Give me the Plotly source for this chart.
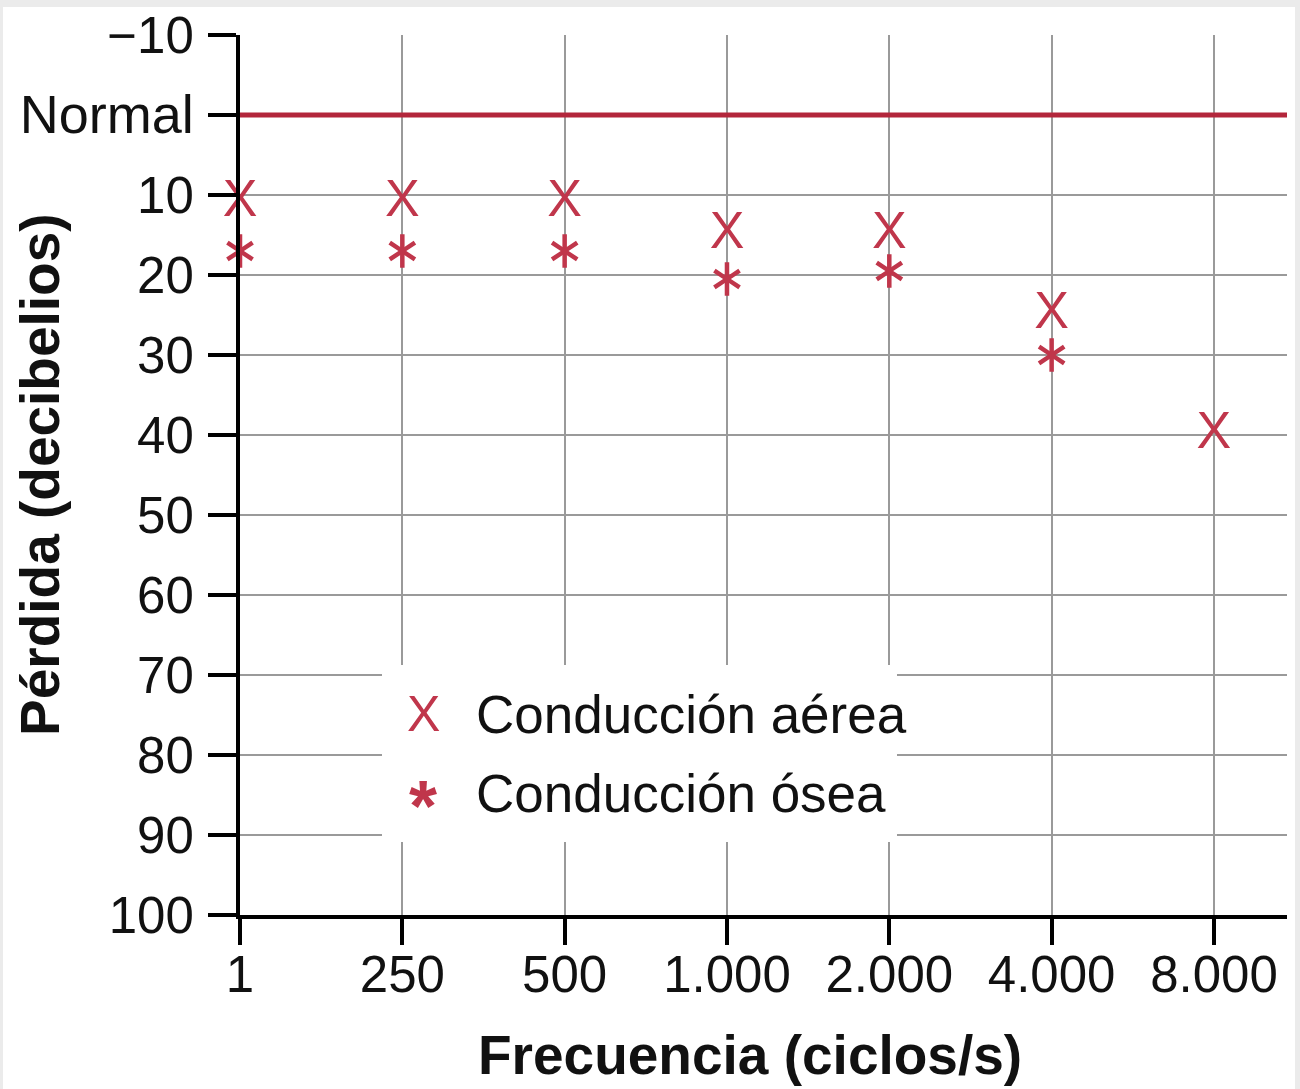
import plotly.graph_objects as go

# Audiogram data (hearing loss in dB)
frecuencias = ["1", "250", "500", "1.000", "2.000", "4.000", "8.000"]
cond_aerea = [11, 11, 11, 15, 15, 25, 40]
cond_osea = [17, 17, 17, 20.5, 19.5, 30, None]
nivel_normal = 0

y_ticks = [-10, 0, 10, 20, 30, 40, 50, 60, 70, 80, 90, 100]
y_labels = ["\u221210", "<span style='font-size:54px'>Normal</span>", "10", "20", "30",
            "40", "50", "60", "70", "80", "90", "100"]

leyenda = ["Conducción aérea", "Conducción ósea"]

RED = "#c0364b"
FONT = "Liberation Sans, Arial, sans-serif"

fig = go.Figure()
# air conduction drawn as a letter X, like the original
fig.add_trace(go.Scatter(
    x=frecuencias, y=cond_aerea, mode="text", text=["X"] * len(cond_aerea),
    name=leyenda[0], cliponaxis=False, showlegend=False,
    textfont=dict(family=FONT, size=52, color=RED),
))
# bone conduction: six-armed asterisk = y-up + y-down
for sym in ["y-up-open", "y-down-open"]:
    fig.add_trace(go.Scatter(
        x=frecuencias, y=cond_osea, mode="markers", name=leyenda[1],
        cliponaxis=False, showlegend=False,
        marker=dict(symbol=sym, size=21, color=RED, line=dict(color=RED, width=4.5)),
    ))

# normal hearing line
fig.add_hline(y=nivel_normal, line=dict(color="#b3263b", width=5), layer="above")

# grey frame (right edge of grid)
fig.add_shape(type="rect", xref="x domain", yref="y domain", x0=0, x1=1, y0=0, y1=1,
              line=dict(color="#9a9a9a", width=2), layer="below")
# white page inside the light grey border
fig.add_shape(type="rect", xref="paper", yref="paper", x0=-0.2264, x1=1.0076, y0=-0.2, y1=1.0318,
              fillcolor="white", line=dict(width=0), layer="below")
# legend box
fig.add_shape(type="rect", xref="paper", yref="paper", x0=0.1356, x1=0.6275, y0=0.083, y1=0.2841,
              fillcolor="white", line=dict(width=0), layer="above")

legend_ann = [
    dict(text="X", x=0.1757, y=0.2284, xanchor="center", font=dict(size=50, color=RED)),
    dict(text=leyenda[0], x=0.2235, y=0.2284, xanchor="left", font=dict(size=53, color="#111")),
    dict(text="<b>*</b>", x=0.1748, y=0.1398, xanchor="center", yshift=-14, font=dict(size=72, color=RED)),
    dict(text=leyenda[1], x=0.2235, y=0.1386, xanchor="left", font=dict(size=53, color="#111")),
]
for a in legend_ann:
    a.update(xref="paper", yref="paper", yanchor="middle", showarrow=False)

fig.update_layout(
    width=1300, height=1089,
    margin=dict(l=240, r=13, t=35, b=174),
    paper_bgcolor="#ebebeb", plot_bgcolor="white",
    font=dict(family=FONT, size=51, color="#111"),
    showlegend=False,
    xaxis=dict(
        type="category", range=[0, 6.45], automargin=False,
        showgrid=True, gridcolor="#9a9a9a", gridwidth=2,
        showline=True, linecolor="black", linewidth=4,
        ticks="outside", ticklen=26, tickwidth=4, tickcolor="black",
        ticklabelstandoff=-14,
        tickfont=dict(size=51),
        zeroline=False,
    ),
    yaxis=dict(
        range=[100, -10], automargin=False,
        tickmode="array", tickvals=y_ticks, ticktext=y_labels,
        showgrid=True, gridcolor="#9a9a9a", gridwidth=2,
        showline=True, linecolor="black", linewidth=4,
        ticks="outside", ticklen=28, tickwidth=4, tickcolor="black",
        ticklabelstandoff=4,
        tickfont=dict(size=51),
        zeroline=False,
    ),
    annotations=[
        dict(text="<b>Frecuencia (ciclos/s)</b>", xref="paper", yref="paper",
             x=0.487, y=-0.159, xanchor="center", yanchor="middle",
             showarrow=False, font=dict(size=55, color="#111")),
        dict(text="<b>Pérdida (decibelios)</b>", xref="paper", yref="paper",
             x=-0.191, y=0.5, xanchor="center", yanchor="middle", textangle=-90,
             showarrow=False, font=dict(size=55, color="#111")),
    ] + legend_ann,
)

# drop the browser's default body margin so the figure fills the window
fig.write_html("out.html", config={"displayModeBar": False},
               post_script="document.body.style.margin='0';")
